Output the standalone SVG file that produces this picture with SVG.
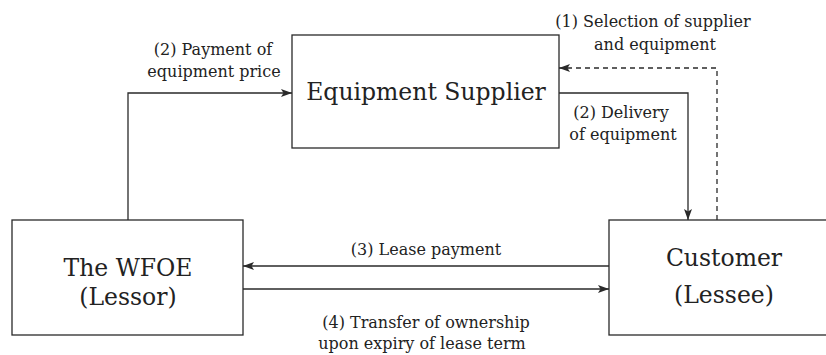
<svg xmlns="http://www.w3.org/2000/svg" width="826" height="355" viewBox="0 0 826 355">
  <style>
    .box { fill: #ffffff; stroke: #2a2a2a; stroke-width: 1.3; }
    .node { font-family: "DejaVu Serif", "Liberation Serif", serif; font-size: 23.5px; fill: #222; text-anchor: middle; }
    .lbl { font-family: "DejaVu Serif", "Liberation Serif", serif; font-size: 16px; fill: #222; text-anchor: middle; }
    .edge { fill: none; stroke: #2a2a2a; stroke-width: 1.3; }
    .dash { stroke-dasharray: 5 4; }
  </style>
  <defs>
    <marker id="arr" markerUnits="userSpaceOnUse" markerWidth="12" markerHeight="10" refX="11" refY="4" orient="auto">
      <path d="M0,0 L11,4 L0,8 L2.5,4 z" fill="#2a2a2a"/>
    </marker>
  </defs>

  <g id="connectors">
    <path class="edge" d="M128,220 V93 H292" marker-end="url(#arr)"/>
    <path class="edge" d="M559,93 H688 V220" marker-end="url(#arr)"/>
    <path class="edge dash" d="M717,220 V68 H559" marker-end="url(#arr)"/>
    <path class="edge" d="M609,266 H243" marker-end="url(#arr)"/>
    <path class="edge" d="M243,289 H609" marker-end="url(#arr)"/>
  </g>

  <g id="labels">
    <text class="lbl" x="213" y="55">(2) Payment of</text>
    <text class="lbl" x="214" y="77">equipment price</text>
    <text class="lbl" x="653" y="27">(1) Selection of supplier</text>
    <text class="lbl" x="655" y="50">and equipment</text>
    <text class="lbl" x="621" y="118">(2) Delivery</text>
    <text class="lbl" x="623" y="140">of equipment</text>
    <text class="lbl" x="426" y="255">(3) Lease payment</text>
    <text class="lbl" x="426" y="328">(4) Transfer of ownership</text>
    <text class="lbl" x="422" y="349">upon expiry of lease term</text>
  </g>

  <g id="supplier">
    <rect class="box" x="292" y="35" width="267" height="113"/>
    <text class="node" x="426" y="100">Equipment Supplier</text>
  </g>

  <g id="wfoe">
    <rect class="box" x="12" y="220" width="231" height="115"/>
    <text class="node" x="128" y="276">The WFOE</text>
    <text class="node" x="128" y="305">(Lessor)</text>
  </g>

  <g id="customer">
    <rect class="box" x="609" y="220" width="232" height="115"/>
    <text class="node" x="724" y="266">Customer</text>
    <text class="node" x="724" y="303">(Lessee)</text>
  </g>
</svg>
